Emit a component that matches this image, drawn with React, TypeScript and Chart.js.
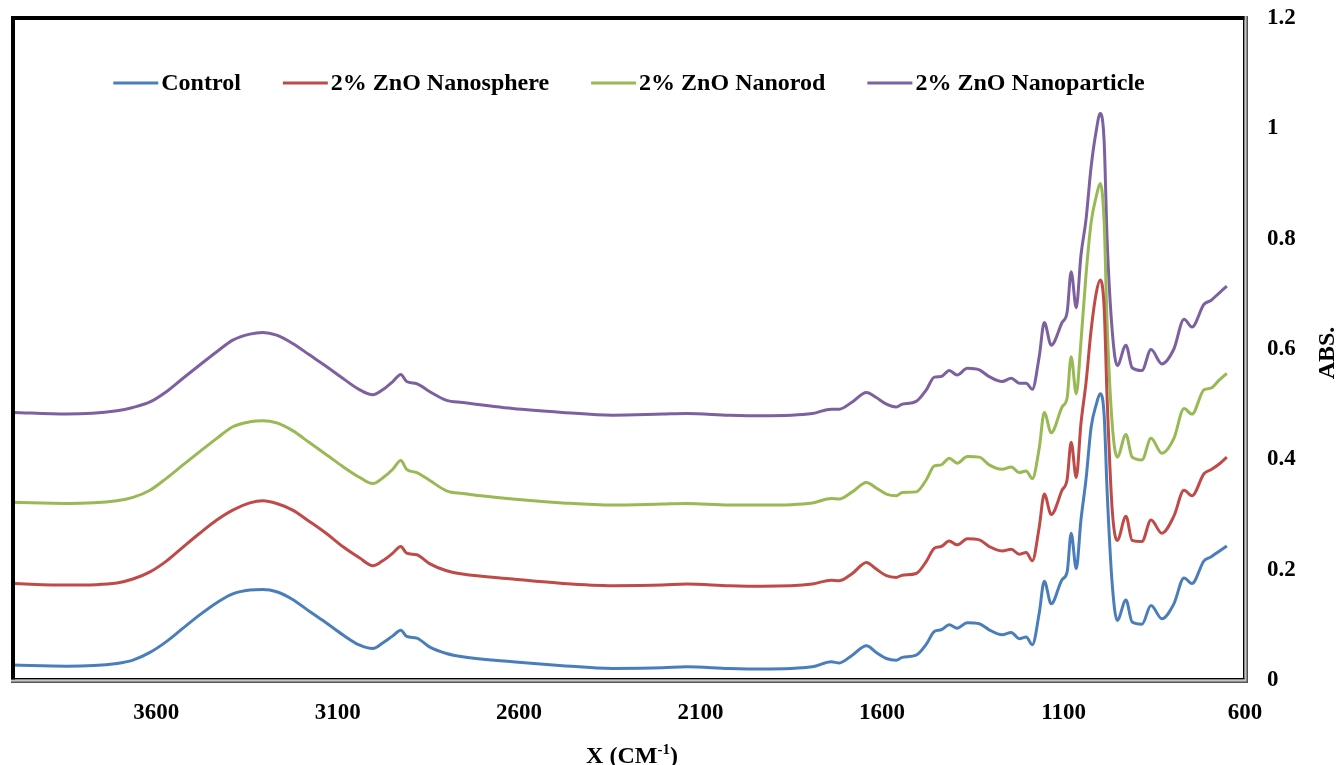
import React, { useEffect, useRef } from 'react';
import { Chart, registerables } from 'chart.js';

Chart.register(...registerables);

// Wavenumber (cm-1) sample positions
const wavenumbers = [3995, 3846, 3708, 3664, 3617, 3571, 3526, 3480, 3433, 3389, 3342, 3306, 3268, 3224, 3177, 3130, 3086, 3039, 3003, 2976, 2948, 2926, 2910, 2882, 2847, 2800, 2756, 2618, 2480, 2343, 2205, 2139, 2021, 1930, 1792, 1740, 1718, 1682, 1643, 1616, 1588, 1561, 1544, 1506, 1478, 1456, 1437, 1415, 1393, 1365, 1332, 1305, 1269, 1244, 1222, 1203, 1186, 1167, 1153, 1134, 1104, 1090, 1079, 1065, 1052, 1038, 1024, 1010, 999, 988, 980, 966, 952, 928, 911, 884, 859, 829, 796, 768, 746, 713, 694, 672, 650];

const control = [0.027, 0.025, 0.030, 0.036, 0.050, 0.070, 0.094, 0.118, 0.140, 0.156, 0.163, 0.164, 0.160, 0.146, 0.124, 0.103, 0.082, 0.063, 0.057, 0.067, 0.080, 0.090, 0.079, 0.076, 0.060, 0.048, 0.042, 0.033, 0.026, 0.021, 0.022, 0.024, 0.021, 0.020, 0.024, 0.033, 0.031, 0.045, 0.062, 0.050, 0.039, 0.036, 0.041, 0.045, 0.065, 0.088, 0.091, 0.100, 0.094, 0.104, 0.102, 0.091, 0.082, 0.086, 0.075, 0.078, 0.064, 0.121, 0.179, 0.138, 0.182, 0.196, 0.266, 0.202, 0.290, 0.364, 0.458, 0.499, 0.519, 0.479, 0.344, 0.175, 0.108, 0.145, 0.105, 0.101, 0.135, 0.111, 0.138, 0.185, 0.175, 0.216, 0.223, 0.233, 0.243];

const nanosphere = [0.175, 0.172, 0.176, 0.183, 0.196, 0.216, 0.241, 0.266, 0.290, 0.308, 0.321, 0.325, 0.320, 0.308, 0.287, 0.265, 0.242, 0.221, 0.207, 0.216, 0.230, 0.242, 0.230, 0.227, 0.211, 0.198, 0.192, 0.183, 0.175, 0.171, 0.172, 0.174, 0.171, 0.170, 0.174, 0.181, 0.180, 0.193, 0.213, 0.201, 0.189, 0.186, 0.190, 0.193, 0.215, 0.239, 0.242, 0.252, 0.245, 0.256, 0.254, 0.242, 0.234, 0.237, 0.228, 0.231, 0.216, 0.277, 0.337, 0.300, 0.344, 0.364, 0.431, 0.367, 0.465, 0.539, 0.634, 0.701, 0.725, 0.674, 0.512, 0.310, 0.253, 0.297, 0.253, 0.251, 0.290, 0.266, 0.297, 0.344, 0.334, 0.374, 0.381, 0.391, 0.404];

const nanorod = [0.322, 0.320, 0.325, 0.331, 0.344, 0.366, 0.390, 0.414, 0.438, 0.459, 0.468, 0.470, 0.466, 0.452, 0.430, 0.408, 0.387, 0.367, 0.356, 0.366, 0.382, 0.398, 0.382, 0.376, 0.362, 0.343, 0.338, 0.328, 0.321, 0.317, 0.319, 0.320, 0.317, 0.317, 0.321, 0.329, 0.328, 0.341, 0.358, 0.348, 0.337, 0.334, 0.340, 0.341, 0.363, 0.388, 0.390, 0.402, 0.393, 0.405, 0.404, 0.390, 0.382, 0.386, 0.376, 0.379, 0.365, 0.420, 0.485, 0.448, 0.495, 0.512, 0.586, 0.519, 0.613, 0.735, 0.829, 0.876, 0.900, 0.829, 0.647, 0.465, 0.404, 0.445, 0.404, 0.399, 0.438, 0.411, 0.438, 0.492, 0.482, 0.526, 0.529, 0.543, 0.556];

const nanoparticle = [0.485, 0.482, 0.488, 0.494, 0.504, 0.523, 0.547, 0.571, 0.595, 0.616, 0.627, 0.630, 0.625, 0.610, 0.589, 0.568, 0.547, 0.526, 0.517, 0.526, 0.541, 0.554, 0.541, 0.537, 0.523, 0.507, 0.503, 0.492, 0.485, 0.480, 0.482, 0.483, 0.480, 0.479, 0.483, 0.491, 0.491, 0.504, 0.521, 0.512, 0.500, 0.495, 0.500, 0.505, 0.526, 0.549, 0.550, 0.561, 0.553, 0.565, 0.562, 0.550, 0.541, 0.547, 0.538, 0.538, 0.527, 0.586, 0.648, 0.607, 0.648, 0.667, 0.740, 0.675, 0.770, 0.835, 0.930, 0.995, 1.027, 0.975, 0.800, 0.634, 0.570, 0.607, 0.566, 0.561, 0.599, 0.573, 0.600, 0.654, 0.640, 0.681, 0.688, 0.701, 0.714];

const seriesLabels = ['Control', '2% ZnO Nanosphere', '2% ZnO Nanorod', '2% ZnO Nanoparticle'];
const seriesColors = ['#4A7EBB', '#BE4B48', '#98B954', '#7D60A0'];
const xTickValues = [3600, 3100, 2600, 2100, 1600, 1100, 600];
const xTitle = 'X (CM';
const xTitleSup = '-1';
const yTitle = 'ABS.';

const FONT = '"Liberation Serif", "Times New Roman", serif';

const decorPlugin = {
  id: 'decor',
  afterDraw(chart: any) {
    const { ctx, chartArea: a } = chart;
    ctx.save();
    // Frame: black top/left, bevelled right/bottom
    ctx.fillStyle = '#000';
    ctx.fillRect(a.left, a.top - 2, 4, a.bottom - a.top + 2);
    ctx.fillRect(a.left, a.top - 2, a.right - a.left, 4);
    ctx.fillRect(a.right - 2, a.top - 2, 1.6, a.bottom - a.top + 1);
    ctx.fillRect(a.left, a.bottom - 2, a.right - a.left, 1.6);
    ctx.fillStyle = '#c4c4c4';
    ctx.fillRect(a.right - 0.4, a.top - 2, 1.8, a.bottom - a.top + 3.4);
    ctx.fillRect(a.left, a.bottom - 0.4, a.right - a.left + 1.4, 1.8);
    ctx.fillStyle = '#555';
    ctx.fillRect(a.right + 1.4, a.top - 2, 1.6, a.bottom - a.top + 5);
    ctx.fillRect(a.left, a.bottom + 1.4, a.right - a.left + 3, 1.6);

    // Legend inside the plot area
    ctx.font = 'bold 24px ' + FONT;
    ctx.textBaseline = 'middle';
    ctx.textAlign = 'left';
    const sample = 45;
    const gap = 3;
    const itemGap = 42;
    const ds = chart.data.datasets;
    const widths = ds.map((d: any) => ctx.measureText(d.label).width);
    const total = widths.reduce((s: number, w: number) => s + sample + gap + w, 0) + itemGap * (ds.length - 1);
    let x = (a.left + a.right) / 2 + 1 - total / 2;
    const ly = a.top + 65;
    ds.forEach((d: any, i: number) => {
      ctx.strokeStyle = d.borderColor;
      ctx.lineWidth = 3;
      ctx.beginPath();
      ctx.moveTo(x, ly);
      ctx.lineTo(x + sample, ly);
      ctx.stroke();
      ctx.fillStyle = '#000';
      ctx.fillText(d.label, x + sample + gap, ly + 1);
      x += sample + gap + widths[i] + itemGap;
    });

    // X axis title with superscript
    ctx.textBaseline = 'alphabetic';
    const bigFont = 'bold 24px ' + FONT;
    const supFont = 'bold 15px ' + FONT;
    ctx.font = bigFont;
    const w1 = ctx.measureText(xTitle).width;
    const w3 = ctx.measureText(')').width;
    ctx.font = supFont;
    const w2 = ctx.measureText(xTitleSup).width;
    const tw = w1 + w2 + w3;
    let tx = (a.left + a.right) / 2 + 4 - tw / 2;
    const ty = 763;
    ctx.fillStyle = '#000';
    ctx.font = bigFont;
    ctx.fillText(xTitle, tx, ty);
    tx += w1;
    ctx.font = supFont;
    ctx.fillText(xTitleSup, tx, ty - 9);
    tx += w2;
    ctx.font = bigFont;
    ctx.fillText(')', tx, ty);

    // Y axis title (reads bottom-to-top)
    ctx.save();
    ctx.translate(1328, (a.top + a.bottom) / 2 + 4);
    ctx.rotate(-Math.PI / 2);
    ctx.textAlign = 'center';
    ctx.textBaseline = 'middle';
    ctx.font = bigFont;
    ctx.fillText(yTitle, 0, 0);
    ctx.restore();

    ctx.restore();
  },
};

export default function App() {
  const canvasRef = useRef<HTMLCanvasElement | null>(null);

  useEffect(() => {
    const series = [control, nanosphere, nanorod, nanoparticle];
    const datasets = series.map((vals, i) => ({
      label: seriesLabels[i],
      data: wavenumbers.map((w, j) => ({ x: w, y: vals[j] })),
      borderColor: seriesColors[i],
      backgroundColor: seriesColors[i],
      borderWidth: 3,
      pointRadius: 0,
      fill: false,
      cubicInterpolationMode: 'monotone' as const,
    }));

    const chart = new Chart(canvasRef.current as HTMLCanvasElement, {
      type: 'line',
      data: { datasets },
      options: {
        animation: false,
        responsive: false,
        maintainAspectRatio: false,
        layout: { padding: { left: 11, top: 18, right: 0, bottom: 0 } },
        plugins: {
          legend: { display: false },
          tooltip: { enabled: false },
          title: { display: false },
        },
        scales: {
          x: {
            type: 'linear',
            min: 600,
            max: 4000,
            reverse: true,
            grid: { display: false, drawTicks: false, tickLength: 0 },
            border: { display: false },
            afterBuildTicks: (scale: any) => {
              scale.ticks = xTickValues.map((v) => ({ value: v }));
            },
            afterFit: (scale: any) => {
              scale.height = 85;
            },
            ticks: {
              autoSkip: false,
              maxRotation: 0,
              padding: 19,
              color: '#000',
              font: { family: FONT, size: 23, weight: 'bold' },
              callback: (v: any) => String(v),
            },
          },
          y: {
            type: 'linear',
            position: 'right',
            min: 0,
            max: 1.2,
            grid: { display: false, drawTicks: true, tickLength: 22 },
            border: { display: false },
            afterFit: (scale: any) => {
              scale.width = 96;
            },
            ticks: {
              stepSize: 0.2,
              padding: 0,
              color: '#000',
              font: { family: FONT, size: 23, weight: 'bold' },
              callback: (v: any) => String(Math.round(Number(v) * 10) / 10),
            },
          },
        },
      },
      plugins: [decorPlugin],
    });

    return () => {
      chart.destroy();
    };
  }, []);

  return (
    <div style={{ position: 'fixed', left: 0, top: 0, width: 1341, height: 765, background: '#fff' }}>
      <canvas ref={canvasRef} width={1341} height={765} style={{ display: 'block', width: 1341, height: 765 }} />
    </div>
  );
}
